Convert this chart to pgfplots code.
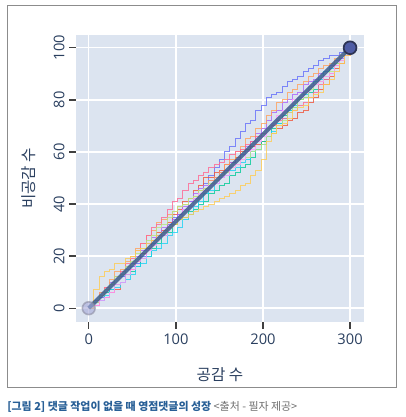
\documentclass[border=0pt]{standalone}
\usepackage{fontspec}
\setmainfont{Open Sans}
\newfontfamily\kr{Noto Sans CJK KR}
\usepackage{pgfplots}
\pgfplotsset{compat=1.18}
\usepackage{pgfplotstable}
\definecolor{bgc}{RGB}{220,228,240}
\definecolor{fc}{HTML}{2A3F5F}
\definecolor{cA}{HTML}{636EFA}
\definecolor{cB}{HTML}{FECB52}
\definecolor{cC}{HTML}{FF6692}
\definecolor{cD}{HTML}{EF553B}
\definecolor{cE}{HTML}{00CC96}
\definecolor{cF}{HTML}{AB63FA}
\definecolor{cG}{HTML}{FFA15A}
\definecolor{cH}{HTML}{19D3F3}
\definecolor{cI}{HTML}{B6E880}
\definecolor{cJ}{HTML}{FF97FF}
\definecolor{diagc}{RGB}{58,92,140}
\definecolor{capblue}{RGB}{40,95,150}
\definecolor{capgray}{RGB}{110,110,110}
\pgfplotstableread{
x a b c d e f g h i j
0 0 0 0 0 0 0 0 0 0 0
6 3 7 2 1 2 3 3 2 2 1
12 4 12 5 3 3 6 6 3 5 3
18 7 14 8 4 6 7 8 5 7 4
24 9 15 9 6 7 10 11 7 9 6
30 12 17 12 7 9 12 14 8 12 9
36 12 17 14 10 10 13 15 10 13 10
42 15 19 17 13 13 16 18 11 16 13
48 16 20 19 15 14 17 20 13 18 15
54 17 22 22 18 16 20 23 16 21 18
60 20 23 25 21 19 22 25 17 23 19
66 23 25 28 23 20 25 28 20 26 22
72 25 26 31 26 23 27 30 22 28 24
78 28 28 32 29 25 28 33 23 31 27
84 29 29 35 30 28 31 34 25 32 28
90 32 31 38 33 29 32 36 28 35 31
96 35 32 41 36 32 34 37 29 37 33
102 36 34 42 38 34 36 39 31 39 35
108 38 35 45 41 35 39 40 34 40 38
114 41 36 48 42 37 41 42 36 42 39
120 42 37 49 45 38 44 43 39 43 42
126 45 38 51 47 40 46 45 41 45 44
132 48 39 52 50 41 47 46 44 46 45
138 51 40 54 50 44 49 49 45 48 47
144 54 41 55 52 45 50 50 48 49 48
150 57 42 56 53 47 52 52 50 51 50
156 60 43 57 55 48 53 55 51 52 51
162 62 44 59 56 51 56 57 53 54 54
168 65 45 60 58 52 57 60 54 55 55
174 68 47 61 60 54 59 62 56 57 57
180 71 48 63 61 55 62 65 57 58 60
186 72 51 64 62 58 64 66 60 60 61
192 76 53 66 63 61 67 69 61 61 64
198 78 57 67 64 64 69 71 63 63 66
204 81 64 69 66 66 72 74 66 66 69
210 82 67 70 67 69 75 76 68 67 71
216 83 70 72 69 71 76 79 71 70 74
222 85 71 73 70 74 79 80 73 72 76
228 87 73 75 72 76 80 83 76 75 77
234 88 76 76 73 77 82 84 78 77 80
240 89 77 78 75 80 83 86 81 80 81
246 91 78 79 76 81 86 87 82 81 83
252 92 81 81 79 83 87 89 85 84 85
258 93 82 83 81 84 88 90 87 86 86
264 95 83 86 84 87 90 92 88 87 87
270 96 86 88 86 88 91 93 91 89 89
276 97 88 90 89 90 93 94 92 91 90
282 97 91 93 92 93 95 96 94 94 93
288 98 94 95 94 95 96 97 95 95 95
294 99 97 98 97 98 99 99 98 98 97
300 100 100 100 100 100 100 100 100 100 100
}\data
\begin{document}
\begin{tikzpicture}
\begin{axis}[
  at={(57pt,71.25pt)}, anchor=south west,
  width=216pt, height=215.25pt, scale only axis,
  xmin=-14.6, xmax=316, ymin=-5.3, ymax=104.9,
  xtick={0,100,200,300}, ytick={0,20,40,60,80,100},
  grid=major, grid style={white, line width=1.1pt},
  axis background/.style={fill=bgc},
  axis line style={draw=none},
  tick align=outside, xtick pos=bottom, ytick pos=left,
  major tick length=5pt,
  tick style={black!75, line width=1pt},
  ticklabel style={font=\fontsize{11}{13}\selectfont, text=fc},
  /pgf/number format/assume math mode=true,
  yticklabel style={rotate=90, anchor=south},
  xlabel={공감 수}, ylabel={비공감 수},
  label style={font=\kr\fontsize{11.7}{14}\selectfont, text=fc},
  xlabel style={at={(axis description cs:0.5,-0.185)}, anchor=center},
  ylabel style={at={(axis description cs:-0.165,0.5)}, anchor=center},
  every axis plot/.append style={line width=0.75pt, opacity=0.8},
]
\addplot[const plot, cA] table[x=x,y=a] {\data};
\addplot[const plot, cD] table[x=x,y=d] {\data};
\addplot[const plot, cE] table[x=x,y=e] {\data};
\addplot[const plot, cF] table[x=x,y=f] {\data};
\addplot[const plot, cG] table[x=x,y=g] {\data};
\addplot[const plot, cH] table[x=x,y=h] {\data};
\addplot[const plot, cC] table[x=x,y=c] {\data};
\addplot[const plot, cI] table[x=x,y=i] {\data};
\addplot[const plot, cJ] table[x=x,y=j] {\data};
\addplot[const plot, cB] table[x=x,y=b] {\data};
\addplot[diagc, line width=3pt, opacity=0.85] coordinates {(0,0) (300,100)};
\addplot[only marks, mark=*, mark size=4.8pt, opacity=0.6, mark options={fill={rgb,255:red,165;green,168;blue,215}, draw={rgb,255:red,140;green,140;blue,160}, line width=1.2pt}] coordinates {(0,0)};
\addplot[only marks, mark=*, mark size=4.8pt, opacity=1, mark options={fill={rgb,255:red,78;green,92;blue,165}, draw={rgb,255:red,45;green,52;blue,85}, line width=1.3pt}] coordinates {(300,100)};
\end{axis}
\draw[black!45, line width=0.75pt] (5.25pt,21.75pt) rectangle (297pt,308.25pt);
\node[anchor=base west, inner sep=0pt] at (5.25pt,5.25pt) {\kr\fontsize{8.2}{10}\selectfont\textcolor{capblue}{\bfseries [그림 2] 댓글 작업이 없을 때 영점댓글의 성장} \textcolor{capgray}{<출처 - 필자 제공>}};
\path (0pt,0pt) rectangle (304.5pt,312.75pt);
\end{tikzpicture}
\end{document}
